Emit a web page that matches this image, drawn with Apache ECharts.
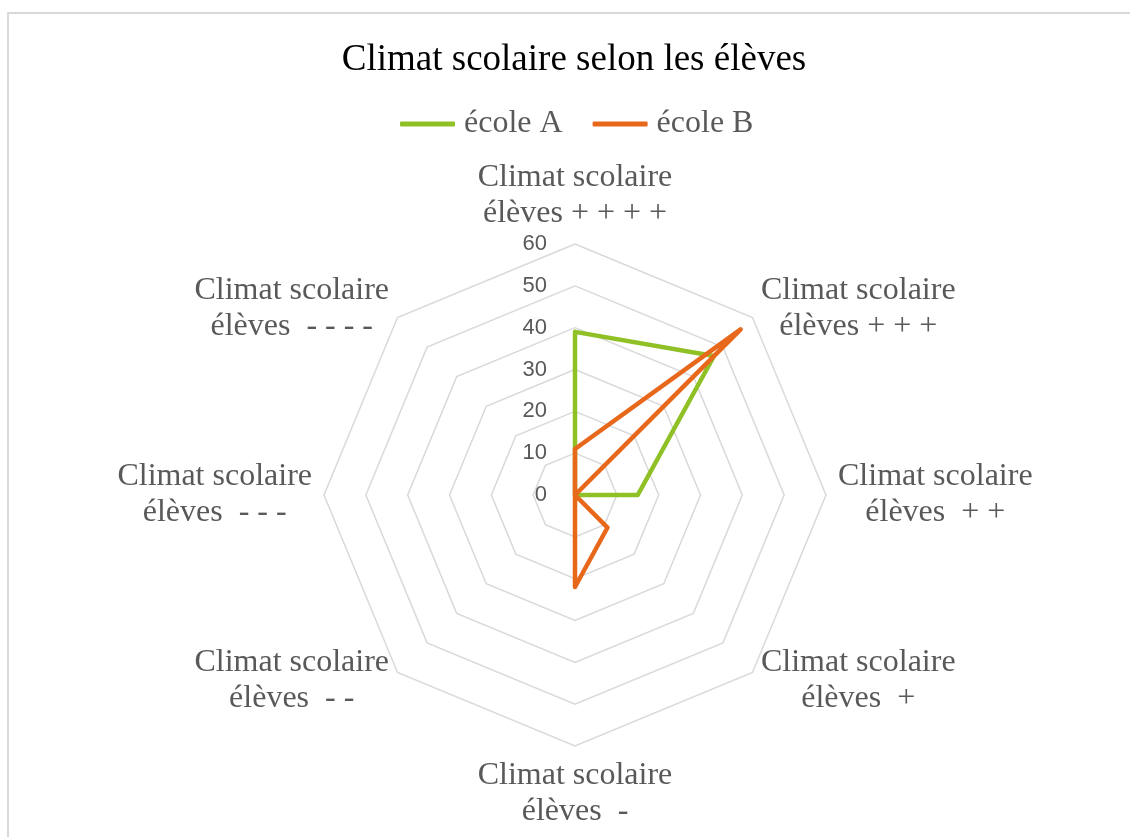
<!DOCTYPE html>
<html>
<head>
<meta charset="utf-8">
<script src="https://cdn.jsdelivr.net/npm/echarts@6/dist/echarts.min.js"></script>
<style>
html,body{margin:0;padding:0;background:#fff;}
#frame{position:absolute;left:7px;top:12px;width:1130px;height:830px;border-left:2px solid #d9d9d9;border-top:2px solid #d9d9d9;}
#chart{position:absolute;left:0;top:0;width:1130px;height:837px;}
</style>
</head>
<body>
<div id="frame"></div>
<div id="chart"></div>
<script>
// Indicators listed clockwise from the top (as in the reference)
const categories = [
  'Climat scolaire\nélèves + + + +',
  'Climat scolaire\nélèves + + +',
  'Climat scolaire\nélèves  + +',
  'Climat scolaire\nélèves  +',
  'Climat scolaire\nélèves  -',
  'Climat scolaire\nélèves  - -',
  'Climat scolaire\nélèves  - - -',
  'Climat scolaire\nélèves  - - - -'
];
const ecoleA = [39, 47, 15, 0, 0, 0, 0, 0];
const ecoleB = [11, 56, 0, 11, 22, 0, 0, 0];
const seriesNames = ['école A', 'école B'];
const axisMax = 60;
const axisSplits = 6;

// ECharts lays radar indicators counter-clockwise: keep the first, reverse the rest
function toCCW(arr) { return [arr[0]].concat(arr.slice(1).reverse()); }

const grey = '#595959';
const serif = '"Liberation Serif","Times New Roman",serif';

const indicators = toCCW(categories).map(function (name, i) {
  const ind = { name: name, min: 0, max: axisMax };
  if (i === 0) ind.axisLabel = { show: true };
  return ind;
});

const chart = echarts.init(document.getElementById('chart'), null, { renderer: 'canvas' });
chart.setOption({
  backgroundColor: 'transparent',
  animation: false,
  title: {
    text: 'Climat scolaire selon les élèves',
    left: 569,
    textAlign: 'center',
    top: 37,
    textStyle: { fontFamily: serif, fontSize: 37, fontWeight: 'normal', color: '#000' }
  },
  legend: {
    top: 103,
    left: 395,
    itemWidth: 55,
    itemHeight: 5,
    itemGap: 30,
    icon: 'roundRect',
    data: seriesNames,
    textStyle: { fontFamily: serif, fontSize: 32, color: grey, padding: [0, 0, 0, 4] }
  },
  radar: {
    center: [575, 495],
    radius: 251,
    startAngle: 90,
    shape: 'polygon',
    splitNumber: axisSplits,
    nameGap: 12,
    indicator: indicators,
    axisName: {
      color: grey,
      fontFamily: serif,
      fontSize: 32,
      formatter: function (v) {
        const parts = v.split('\n');
        return '{l|' + parts[0] + '}\n{l|' + parts[1] + '}';
      },
      rich: {
        l: { align: 'center', fontFamily: serif, fontSize: 32, color: grey, lineHeight: 36 }
      }
    },
    axisLine: { show: false },
    axisTick: { show: false },
    splitArea: { show: false },
    splitLine: { lineStyle: { color: '#d9d9d9', width: 1.5 } },
    axisLabel: {
      show: false,
      color: grey,
      fontFamily: '"Liberation Sans",Arial,sans-serif',
      fontSize: 22,
      margin: 28
    }
  },
  series: [{
    type: 'radar',
    symbol: 'none',
    data: [
      { name: seriesNames[0], value: toCCW(ecoleA),
        lineStyle: { color: '#8fc126', width: 4.5, cap: 'round', join: 'round' },
        itemStyle: { color: '#8fc126' } },
      { name: seriesNames[1], value: toCCW(ecoleB),
        lineStyle: { color: '#e8681b', width: 4.5, cap: 'round', join: 'round' },
        itemStyle: { color: '#e8681b' } }
    ]
  }]
});
</script>
</body>
</html>
